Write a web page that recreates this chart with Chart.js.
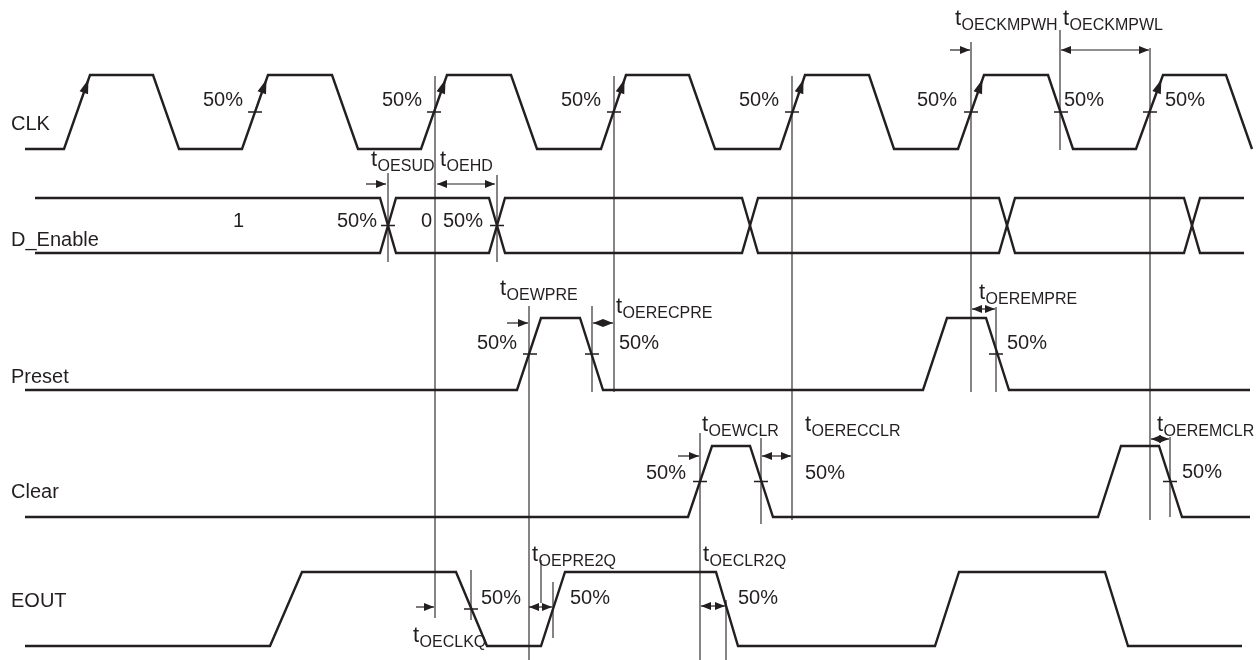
<!DOCTYPE html>
<html>
<head>
<meta charset="utf-8">
<script src="https://cdn.jsdelivr.net/npm/chart.js@4.4.1/dist/chart.umd.min.js"></script>
<style>
  html, body { margin: 0; padding: 0; background: #fff; }
</style>
</head>
<body>
<canvas id="timing" width="1260" height="660"></canvas>
<script>
// waveform edges: time of each corner and the logic level there
const clkTimes  = [25, 64, 90, 153, 179, 242, 268, 332, 358, 421, 447, 511, 537, 601, 626, 689, 715, 780, 805, 869, 894, 958, 984, 1048, 1073, 1136, 1163, 1226, 1252]
const clkLevels = [0, 0, 1, 1, 0, 0, 1, 1, 0, 0, 1, 1, 0, 0, 1, 1, 0, 0, 1, 1, 0, 0, 1, 1, 0, 0, 1, 1, 0]

const enTimes   = [35, 380, 396, 489, 505, 742, 758, 999, 1015, 1184, 1200, 1244]
const enLevelsA = [1, 1, 0, 0, 1, 1, 0, 0, 1, 1, 0, 0]
const enLevelsB = [0, 0, 1, 1, 0, 0, 1, 1, 0, 0, 1, 1]
const enValues  = ['1', '0']
const enValueAt = [233, 421]

const preTimes  = [25, 517, 541, 580, 603, 923, 947, 986, 1009, 1250]
const preLevels = [0, 0, 1, 1, 0, 0, 1, 1, 0, 0]

const clrTimes  = [25, 688, 712, 750, 773, 1098, 1121, 1159, 1182, 1250]
const clrLevels = [0, 0, 1, 1, 0, 0, 1, 1, 0, 0]

const outTimes  = [25, 270, 302, 456, 487, 541, 565, 716, 738, 935, 959, 1105, 1128, 1242]
const outLevels = [0, 0, 1, 1, 0, 0, 1, 1, 0, 0, 1, 1, 0, 0]

// 50% crossing marks on each signal
const clkTicks = [255, 434, 614, 792, 971, 1061, 1150]
const enTicks  = [388, 497]
const preTicks = [530, 592, 996]
const clrTicks = [700, 761, 1170]
const outTicks = [471]

// timing parameter names
const timingNames = ['OECKMPWH', 'OECKMPWL', 'OESUD', 'OEHD', 'OEWPRE', 'OERECPRE', 'OEREMPRE',
                     'OEWCLR', 'OERECCLR', 'OEREMCLR', 'OEPRE2Q', 'OECLR2Q', 'OECLKQ']
const signalNames = ['CLK', 'D_Enable', 'Preset', 'Clear', 'EOUT']

// ---- layout (positions in the drawing's coordinate space) ----
const lanes = {
  CLK:      { hi: 75,  lo: 149, nameY: 124 },
  D_Enable: { hi: 198, lo: 253, nameY: 240 },
  Preset:   { hi: 318, lo: 390, nameY: 377 },
  Clear:    { hi: 446, lo: 517, nameY: 492 },
  EOUT:     { hi: 572, lo: 646, nameY: 601 },
}
const nameX = 11

// vertical reference lines: x, top, bottom
const markers = [
  [435, 76, 618], [614, 76, 392], [792, 76, 520], [971, 42, 392], [1060, 30, 150], [1150, 48, 520],
  [388, 173, 262], [497, 175, 262],
  [529, 306, 660], [592, 306, 392], [996, 307, 392],
  [700, 433, 660], [761, 438, 524], [1170, 437, 517],
  [471, 570, 620], [541, 560, 603], [553, 582, 638], [726, 600, 660],
]
// label x (left of the t) and subscript baseline
const timingPos = [
  [955, 30], [1063, 30], [371, 171], [440, 171], [500, 300], [616, 318], [979, 304],
  [702, 436], [805, 436], [1157, 436], [532, 566], [703, 566], [413, 647],
]
const oneWay = [[366, 386, 184], [950, 970, 50], [507, 528, 323], [678, 699, 456], [416, 434, 607]]
const twoWay = [[437, 495, 184], [1061, 1149, 50], [593, 613, 323], [972, 995, 309],
                [762, 791, 456], [1151, 1169, 439], [529, 552, 607], [701, 725, 606]]
// "50%" captions: left x, centre y
const pctPos = [
  [203, 100], [382, 100], [561, 100], [739, 100], [917, 100], [1064, 100], [1165, 100],
  [337, 221], [443, 221],
  [477, 343], [619, 343], [1007, 343],
  [646, 473], [805, 473], [1182, 472],
  [481, 598], [570, 598], [738, 598],
]

const ink = '#231f20'
const font = '"Liberation Sans", Arial, sans-serif'

function wave(times, levels, lane) {
  return times.map((t, i) => ({ x: t, y: lane.lo + (lane.hi - lane.lo) * levels[i] }))
}
function ticks(list, lane) {
  const mid = (lane.hi + lane.lo) / 2
  const pts = []
  list.forEach(t => { pts.push({ x: t - 7, y: mid }, { x: t + 7, y: mid }, { x: t, y: null }) })
  return pts
}
const waveStyle = { showLine: true, pointRadius: 0, borderColor: ink, borderWidth: 2.4, fill: false, tension: 0 }

const datasets = [
  { label: 'CLK', data: wave(clkTimes, clkLevels, lanes.CLK), ...waveStyle },
  { label: 'D_Enable', data: wave(enTimes, enLevelsA, lanes.D_Enable), ...waveStyle },
  { label: 'D_Enable_n', data: wave(enTimes, enLevelsB, lanes.D_Enable), ...waveStyle },
  { label: 'Preset', data: wave(preTimes, preLevels, lanes.Preset), ...waveStyle },
  { label: 'Clear', data: wave(clrTimes, clrLevels, lanes.Clear), ...waveStyle },
  { label: 'EOUT', data: wave(outTimes, outLevels, lanes.EOUT), ...waveStyle },
]
markers.forEach(m => {
  datasets.push({ data: [{ x: m[0], y: m[1] }, { x: m[0], y: m[2] }], showLine: true, pointRadius: 0,
    borderColor: ink, borderWidth: 1.1 })
})
const tickData = [].concat(
  ticks(clkTicks, lanes.CLK), ticks(enTicks, lanes.D_Enable), ticks(preTicks, lanes.Preset),
  ticks(clrTicks, lanes.Clear), ticks(outTicks, lanes.EOUT))
datasets.push({ data: tickData, showLine: true, spanGaps: false, pointRadius: 0, borderColor: ink, borderWidth: 1.7 })

function head(ctx, x, y, dx, dy, len, half) {
  const n = Math.hypot(dx, dy), ux = dx / n, uy = dy / n
  ctx.beginPath()
  ctx.moveTo(x, y)
  ctx.lineTo(x - ux * len - uy * half, y - uy * len + ux * half)
  ctx.lineTo(x - ux * len + uy * half, y - uy * len - ux * half)
  ctx.closePath()
  ctx.fill()
}

const annotations = {
  id: 'annotations',
  afterDatasetsDraw(chart) {
    const ctx = chart.ctx, xs = chart.scales.x, ys = chart.scales.y
    const px = v => xs.getPixelForValue(v), py = v => ys.getPixelForValue(v)
    ctx.save()
    ctx.fillStyle = ink
    ctx.strokeStyle = ink

    // arrowheads on the rising clock edges
    const clk = wave(clkTimes, clkLevels, lanes.CLK)
    for (let i = 1; i < clk.length; i++) {
      if (clkLevels[i] === 1 && clkLevels[i - 1] === 0) {
        const x0 = px(clk[i - 1].x), y0 = py(clk[i - 1].y), x1 = px(clk[i].x), y1 = py(clk[i].y)
        const tx = x0 + (x1 - x0) * 0.94, ty = y0 + (y1 - y0) * 0.94
        head(ctx, tx, ty, x1 - x0, y1 - y0, 14, 4.5)
      }
    }

    // dimension arrows
    ctx.lineWidth = 1.2
    oneWay.forEach(a => {
      ctx.beginPath(); ctx.moveTo(px(a[0]), py(a[2])); ctx.lineTo(px(a[1]), py(a[2])); ctx.stroke()
      head(ctx, px(a[1]), py(a[2]), 1, 0, 10, 4)
    })
    twoWay.forEach(a => {
      ctx.beginPath(); ctx.moveTo(px(a[0]), py(a[2])); ctx.lineTo(px(a[1]), py(a[2])); ctx.stroke()
      head(ctx, px(a[1]), py(a[2]), 1, 0, 10, 4)
      head(ctx, px(a[0]), py(a[2]), -1, 0, 10, 4)
    })

    // signal names
    ctx.font = '20px ' + font
    ctx.textBaseline = 'middle'
    ctx.textAlign = 'left'
    signalNames.forEach(n => ctx.fillText(n, px(nameX), py(lanes[n].nameY)))

    // bus values
    enValues.forEach((v, i) => ctx.fillText(v, px(enValueAt[i]), py(221)))

    // 50% captions
    ctx.font = '20px ' + font
    pctPos.forEach(p => ctx.fillText('50%', px(p[0]), py(p[1])))

    // timing parameter labels with subscripts
    ctx.textBaseline = 'alphabetic'
    timingNames.forEach((n, i) => {
      const x = px(timingPos[i][0]), y = py(timingPos[i][1])
      ctx.font = '22px ' + font
      ctx.fillText('t', x, y - 5)
      const w = ctx.measureText('t').width
      ctx.font = '16px ' + font
      ctx.fillText(n, x + w + 0.5, y)
    })
    ctx.restore()
  }
}

new Chart(document.getElementById('timing').getContext('2d'), {
  type: 'scatter',
  data: { datasets },
  options: {
    responsive: false,
    animation: false,
    layout: { padding: 0 },
    plugins: { legend: { display: false }, tooltip: { enabled: false } },
    scales: {
      x: { type: 'linear', min: 0, max: 1260, display: false },
      y: { type: 'linear', min: 0, max: 660, reverse: true, display: false },
    },
  },
  plugins: [annotations],
})
</script>
</body>
</html>
